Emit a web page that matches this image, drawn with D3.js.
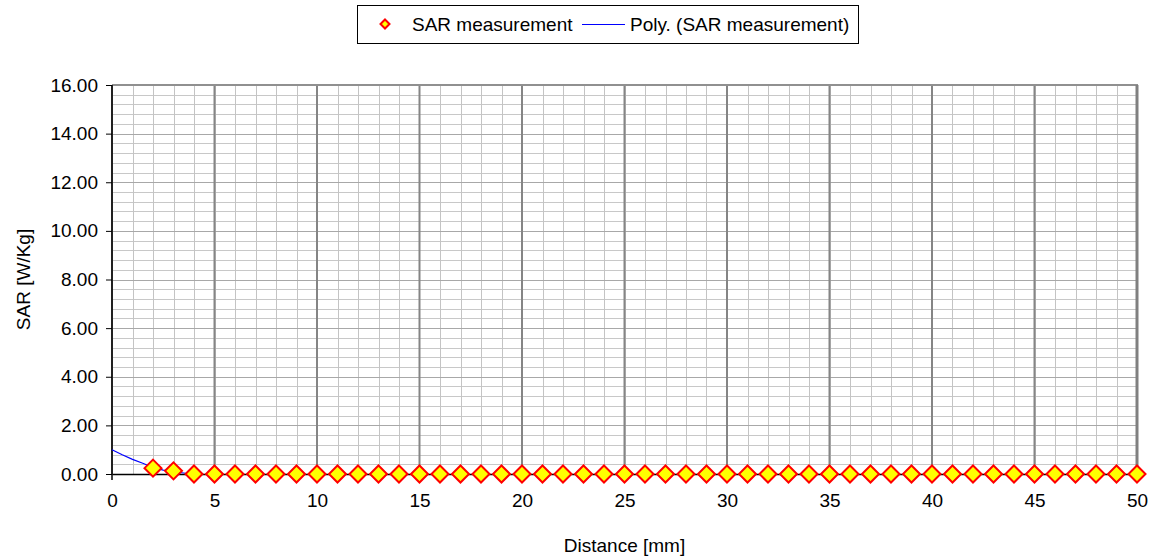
<!DOCTYPE html>
<html>
<head>
<meta charset="utf-8">
<script src="https://cdn.jsdelivr.net/npm/d3@7.9.0/dist/d3.min.js"></script>
<style>
  html, body { margin: 0; padding: 0; background: #fff; }
  svg { display: block; font-family: Arial, 'Liberation Sans', sans-serif; }
</style>
</head>
<body>
<div id="chart"></div>
<script>
// SAR measurement points (distance in mm, SAR in W/kg)
const distance = [2, 3, 4, 5, 6, 7, 8, 9, 10, 11, 12, 13, 14, 15, 16, 17, 18, 19, 20,
  21, 22, 23, 24, 25, 26, 27, 28, 29, 30, 31, 32, 33, 34, 35, 36, 37, 38, 39, 40,
  41, 42, 43, 44, 45, 46, 47, 48, 49, 50];
const sar = [0.24, 0.13, 0, 0, 0, 0, 0, 0, 0, 0, 0, 0, 0, 0, 0, 0, 0, 0, 0,
  0, 0, 0, 0, 0, 0, 0, 0, 0, 0, 0, 0, 0, 0, 0, 0, 0, 0, 0, 0,
  0, 0, 0, 0, 0, 0, 0, 0, 0, 0];

// polynomial trendline (clipped at 0)
const polyX = [0, 0.5, 1, 1.5, 2, 2.5, 3, 3.5, 3.75];
const polyY = [1.0, 0.79, 0.6, 0.44, 0.27, 0.16, 0.09, 0.04, 0.01];

const xTicks = [0, 5, 10, 15, 20, 25, 30, 35, 40, 45, 50];
const yTicks = [0, 2, 4, 6, 8, 10, 12, 14, 16];

const seriesLabels = ['SAR measurement', 'Poly. (SAR measurement)'];

function renderChart() {
  const width = 1154;
  const height = 558;
  const margin = { top: 85, right: 17, bottom: 84, left: 112 };
  const fontSize = 19;

  const svg = d3.select('#chart')
    .append('svg')
    .attr('width', width)
    .attr('height', height);

  const xScale = d3.scaleLinear()
    .domain([0, 50])
    .range([margin.left, width - margin.right]);

  const yScale = d3.scaleLinear()
    .domain([0, 16])
    .range([height - margin.bottom, margin.top]);

  const grid = svg.append('g').attr('class', 'grid');

  // minor grid
  grid.selectAll('line.hminor')
    .data(d3.range(0, 16.001, 0.4))
    .join('line')
    .attr('x1', xScale(0)).attr('x2', xScale(50))
    .attr('y1', (d) => Math.round(yScale(d)) + 0.5)
    .attr('y2', (d) => Math.round(yScale(d)) + 0.5)
    .attr('stroke', '#c8c8c8');

  grid.selectAll('line.vminor')
    .data(d3.range(0, 51, 1))
    .join('line')
    .attr('y1', yScale(0)).attr('y2', yScale(16))
    .attr('x1', (d) => Math.round(xScale(d)) + 0.5)
    .attr('x2', (d) => Math.round(xScale(d)) + 0.5)
    .attr('stroke', '#c4c4c4');

  // major grid
  grid.append('g')
    .selectAll('line')
    .data(yTicks)
    .join('line')
    .attr('x1', xScale(0)).attr('x2', xScale(50))
    .attr('y1', (d) => Math.round(yScale(d)) + 0.5)
    .attr('y2', (d) => Math.round(yScale(d)) + 0.5)
    .attr('stroke', '#a8a8a8');

  grid.append('g')
    .selectAll('line')
    .data(xTicks)
    .join('line')
    .attr('y1', yScale(0)).attr('y2', yScale(16))
    .attr('x1', (d) => xScale(d))
    .attr('x2', (d) => xScale(d))
    .attr('stroke', '#858585')
    .attr('stroke-width', 2);

  // plot border top/right
  svg.append('line')
    .attr('x1', xScale(0)).attr('x2', xScale(50) + 1)
    .attr('y1', yScale(16)).attr('y2', yScale(16))
    .attr('stroke', '#909090').attr('stroke-width', 2);
  svg.append('line')
    .attr('x1', xScale(50)).attr('x2', xScale(50))
    .attr('y1', yScale(16)).attr('y2', yScale(0))
    .attr('stroke', '#808080').attr('stroke-width', 3);

  // y axis
  const yAxis = d3.axisLeft(yScale)
    .tickValues(yTicks)
    .tickFormat(d3.format('.2f'))
    .tickSize(6)
    .tickPadding(8);

  const gy = svg.append('g')
    .attr('transform', `translate(${xScale(0)},0)`)
    .call(yAxis);
  gy.select('.domain').remove();
  gy.selectAll('.tick line').attr('stroke', '#000');
  gy.selectAll('.tick text')
    .attr('font-size', fontSize)
    .attr('font-family', 'Arial, Liberation Sans, sans-serif')
    .attr('fill', '#000');

  svg.append('line')
    .attr('x1', xScale(0)).attr('x2', xScale(0))
    .attr('y1', yScale(16)).attr('y2', yScale(0) + 6)
    .attr('stroke', '#000').attr('stroke-width', 1.5);

  // x axis
  const xAxis = d3.axisBottom(xScale)
    .tickValues(xTicks)
    .tickSize(0)
    .tickPadding(20);

  const gx = svg.append('g')
    .attr('transform', `translate(0,${yScale(0)})`)
    .call(xAxis);
  gx.select('.domain').attr('stroke', '#000').attr('stroke-width', 1.5);
  gx.selectAll('.tick text')
    .attr('font-size', fontSize)
    .attr('font-family', 'Arial, Liberation Sans, sans-serif')
    .attr('fill', '#000');

  // axis titles
  svg.append('text')
    .attr('x', (xScale(0) + xScale(50)) / 2)
    .attr('y', 552)
    .attr('text-anchor', 'middle')
    .attr('font-size', fontSize)
    .text('Distance [mm]');

  svg.append('text')
    .attr('transform', `translate(30,${(yScale(0) + yScale(16)) / 2}) rotate(-90)`)
    .attr('text-anchor', 'middle')
    .attr('font-size', fontSize)
    .text('SAR [W/Kg]');

  // trendline
  const polyPts = polyX.map((x, i) => [x, polyY[i]]);
  const line = d3.line()
    .x((d) => xScale(d[0]))
    .y((d) => yScale(d[1]));

  svg.append('path')
    .datum(polyPts)
    .attr('d', line)
    .attr('fill', 'none')
    .attr('stroke', '#0000ff')
    .attr('stroke-width', 1.2);

  // markers
  const diamond = (r) => `M0,${-r}L${r},0L0,${r}L${-r},0Z`;
  svg.append('g')
    .selectAll('path')
    .data(distance.map((x, i) => ({ x, y: sar[i] })))
    .join('path')
    .attr('transform', (d) => `translate(${xScale(d.x)},${yScale(d.y)})`)
    .attr('d', diamond(8.5))
    .attr('fill', '#ffff00')
    .attr('stroke', '#ff0000')
    .attr('stroke-width', 2);

  // legend
  const legend = svg.append('g');
  legend.append('rect')
    .attr('x', 357.5).attr('y', 5.5)
    .attr('width', 501).attr('height', 38)
    .attr('fill', '#fff')
    .attr('stroke', '#000');

  legend.append('path')
    .attr('transform', 'translate(385,24)')
    .attr('d', diamond(4.5))
    .attr('fill', '#ffff00')
    .attr('stroke', '#ff0000')
    .attr('stroke-width', 2);
  legend.append('text')
    .attr('x', 412).attr('y', 24)
    .attr('dy', '0.35em')
    .attr('font-size', fontSize)
    .text(seriesLabels[0]);

  legend.append('line')
    .attr('x1', 582).attr('x2', 625)
    .attr('y1', 24.5).attr('y2', 24.5)
    .attr('stroke', '#0000ff');
  legend.append('text')
    .attr('x', 630).attr('y', 24)
    .attr('dy', '0.35em')
    .attr('font-size', fontSize)
    .text(seriesLabels[1]);
}

renderChart();
</script>
</body>
</html>
